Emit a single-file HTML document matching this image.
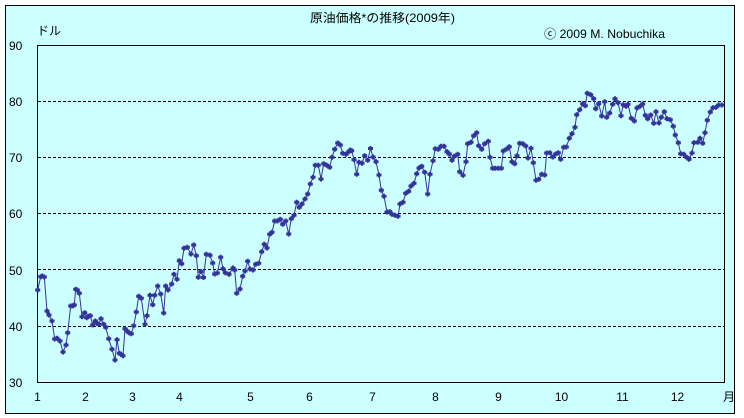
<!DOCTYPE html>
<html><head><meta charset="utf-8"><style>
html,body{margin:0;padding:0;background:#fff;}
svg{display:block;}
text{font-family:"Liberation Sans","Noto Sans CJK JP",sans-serif;font-size:12px;fill:#000;}
</style></head><body>
<svg width="744" height="418" viewBox="0 0 744 418" xmlns="http://www.w3.org/2000/svg">
<defs>
<marker id="m" viewBox="-3 -3 6 6" refX="0" refY="0" markerWidth="6" markerHeight="6" markerUnits="userSpaceOnUse">
<path d="M-1,-2.5 h2 v1 h1.5 v3 h-1.5 v1 h-2 v-1 h-1.5 v-3 h1.5z" fill="#333399"/>
</marker>
</defs>
<rect x="5.5" y="5.5" width="729" height="408" fill="#CCFFFF" stroke="#000" stroke-width="1"/>
<g stroke="#000" stroke-width="1" stroke-dasharray="3,2">
<line x1="38" y1="101.5" x2="724" y2="101.5"/>
<line x1="38" y1="157.5" x2="724" y2="157.5"/>
<line x1="38" y1="213.5" x2="724" y2="213.5"/>
<line x1="38" y1="269.5" x2="724" y2="269.5"/>
<line x1="38" y1="326.5" x2="724" y2="326.5"/>
</g>
<rect x="37.5" y="45.5" width="687" height="337" fill="none" stroke="#000" stroke-width="1"/>
<polyline fill="none" stroke="#333399" stroke-width="1" marker-start="url(#m)" marker-mid="url(#m)" marker-end="url(#m)" points="
37.7,290 40.7,276.7 42.3,276 44.3,277 47,311 49,315 52,321 54.7,339 57,338.3 60,341 63,352 66,345 67.7,332.7 70.7,306 73,305.7 74.3,305 75.7,289.3 77.3,290 79.3,293.3 82,316.7 84.7,312.7 86.7,317.7 88.3,316.3 90.3,315.7 92.7,325 95.3,321 97,323.3 98.7,324.3 101,318.7 103.7,324.3 105.7,327.3 108.7,338.7 112,349.3 115,360 117,339.7 119.3,353.3 121,354.3 123,355.7 125,328.7 127,331 129,332.7 131.3,333.7 133.7,325.7 136.3,312 138.7,296.3 141.3,298.3 145,324.3 147,315.7 150,295.3 152.7,304.7 154.7,295.3 157.7,286 160.7,294 163.7,313 165.7,286 168,290 171.7,284 174,274.3 177,279.3 179.3,260.7 181.7,263.7 184,248.3 187.3,247.3 191,254 193.7,245 196.3,255.7 198.3,277.3
201,271.5 203.5,277.5 206.3,254.3 210,255.3 212.7,263 214.7,274 217.3,273 220.7,257.3 223,268.7 225.3,272.7 229,274.3 233,268 234.7,270 236.7,293.3 240,289 242.7,276.3 245,271 247.7,261.3 250,269 253,270 255.7,264.3 258.7,263.3 261.7,251.7 264.3,244.3 267,248 269.7,234.3 272,232.3 274.7,221 277.3,221 280.3,219.3 282.7,224.3 285.7,221 288.7,234 291.3,218.7 294,215.3 296.7,202.3 299.3,207.3 302,204 305,199 307.7,194 310.3,184 313,177.3 315.3,165.3 318.3,165.3 321,179 323.7,163.7 326.7,165.3 329.7,167.3 332,157.3 334.7,149.3 337.7,143 340.3,145 342.7,153.3 346,154.3 348.7,151.7 350.3,150 351.7,150.7 354,159.7 356.7,174.3 359,162.3 362,163.3 364.7,155.7 367.7,160.3 370.5,148.5
373,157 376,161.7 379,175 381.3,190.3 384,196.3 387,212 389.7,211.7 392,214.3 395,215.3 398,216.3 400,204 403,202.3 405.7,193.3 408.7,191.3 411,186 414,183.3 416.7,173.7 419,168 421.7,166.3 424.7,172.3 427.7,194 430,174.3 433,160.7 435.3,148.7 438.3,149.3 441,146.3 444,146.3 447,151.7 449.3,154 452,160.3 454.3,156.3 457.7,154.3 459.7,171.7 463,175.3 466,161.7 467.7,143.7 471,142.3 473.7,135.7 476.7,132.7 478.7,145.7 481.7,149.3 484.7,143.7 488.3,141.3 490,157.3 492.7,168.3 495.3,168.3 498.3,168.3 501.3,168.3 503.3,151 506.7,149 509.3,146.7 512,161.7 514.7,163.7 517,155.7 519.7,143.3 522.7,143.7 525.7,146 528,158 531,148.3 533.3,162.7 536,180.3 538.7,179.3 541.7,174.3 544.7,175 546.7,153
549.7,152.7 552.7,157 555.7,154 558.3,152.7 560.7,159.3 563.7,147.3 566.3,147 569.3,138.3 572,133.7 575,127.3 576.7,114.7 579.7,109.7 582.7,103.7 585.3,105.7 587.3,93.3 590.7,94.7 593.7,98.7 595.7,108.7 598.7,103.7 601.7,116 604.7,101.7 606.7,117.3 609.7,113 612.7,104.3 615,98.7 618,102.7 621,115.7 623.3,104.7 626,106.3 628,104.3 631.3,118.3 634.3,121 637,108 640,106.3 642.7,104 645.3,115.3 647.7,118.7 650.7,115 653.7,123.3 656,111.7 659,123 661.3,117.3 664.3,111.7 667,118.7 670.3,119.7 673.3,126.3 675.3,135 678.3,142.7 680.7,153.7 683.7,154.3 686.7,157.3 689,159.3 692,153 694,142.7 697.7,142.3 700,138.3 702.7,143.3 705,132.7 707.3,120.3 710.3,112 713,107.7 716,107.3 718.7,105 721.7,105"/>
<text x="310" y="22" textLength="145" lengthAdjust="spacingAndGlyphs">原油価格*の推移(2009年)</text>
<text x="37" y="35">ドル</text>
<text x="544" y="38" textLength="121" lengthAdjust="spacingAndGlyphs">ⓒ 2009 M. Nobuchika</text>
<g>
<text x="9" y="50">90</text>
<text x="9" y="106">80</text>
<text x="9" y="162">70</text>
<text x="9" y="218">60</text>
<text x="9" y="275">50</text>
<text x="9" y="331">40</text>
<text x="9" y="387">30</text>
</g>
<g text-anchor="middle">
<text x="37.5" y="401">1</text>
<text x="85.5" y="401">2</text>
<text x="132.5" y="401">3</text>
<text x="179.5" y="401">4</text>
<text x="250.5" y="401">5</text>
<text x="309.5" y="401">6</text>
<text x="372.5" y="401">7</text>
<text x="435.5" y="401">8</text>
<text x="498.5" y="401">9</text>
<text x="561.5" y="401">10</text>
<text x="622.5" y="401">11</text>
<text x="677.5" y="401">12</text>
<text x="729" y="401">月</text>
</g>
</svg>
</body></html>
